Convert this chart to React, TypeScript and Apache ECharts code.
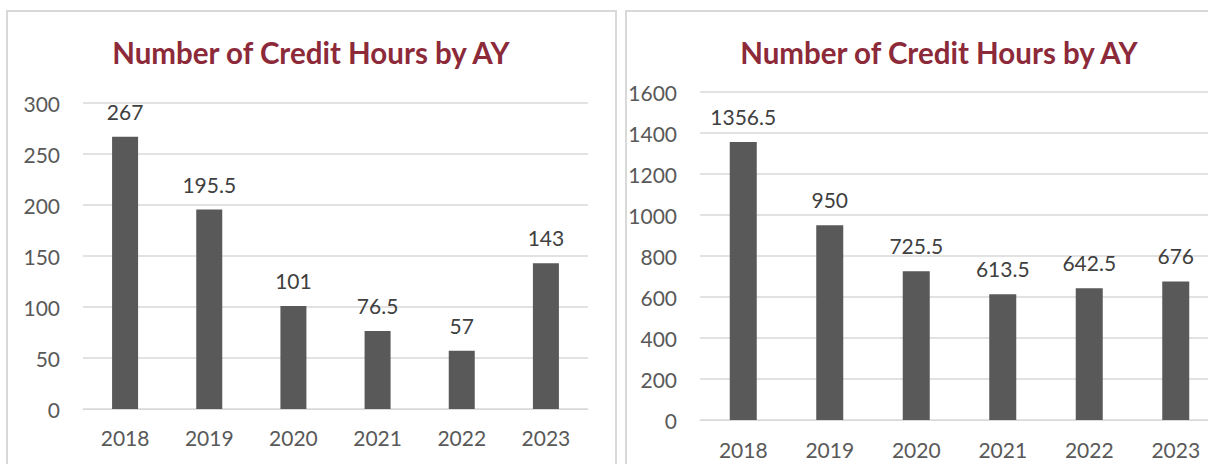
import React, { useEffect, useRef } from "react";
import * as echarts from "echarts";

const years = ["2018", "2019", "2020", "2021", "2022", "2023"];
const leftValues = [267, 195.5, 101, 76.5, 57, 143];
const rightValues = [1356.5, 950, 725.5, 613.5, 642.5, 676];
const titleText = "Number of Credit Hours by AY";

const FONT = "Lato, 'Open Sans', sans-serif";
const BAR = "#595959";
const GRID = "#d9d9d9";
const AXIS_TEXT = "#595959";
const LABEL_TEXT = "#404040";
const TITLE = "#8c2a3a";

export default function App() {
  const ref = useRef<HTMLDivElement>(null);
  useEffect(() => {
    if (!ref.current) return;
    const chart = echarts.init(ref.current, null, { renderer: "svg" });
    const mkX = (gi: number, margin: number) => ({
      type: "category",
      gridIndex: gi,
      data: years,
      axisLine: { show: true, lineStyle: { color: GRID, width: 1 } },
      axisTick: { show: false },
      axisLabel: { color: AXIS_TEXT, fontSize: 21, fontFamily: FONT, margin },
    });
    const mkY = (gi: number, max: number, interval: number) => ({
      type: "value",
      gridIndex: gi,
      min: 0,
      max,
      interval,
      axisLine: { show: false },
      axisTick: { show: false },
      splitLine: { lineStyle: { color: GRID, width: 1.5 } },
      axisLabel: {
        color: AXIS_TEXT,
        fontSize: 21,
        fontFamily: FONT,
        margin: 23,
        formatter: (v: number) => String(v),
      },
    });
    const mkSeries = (gi: number, data: number[], w: number) => ({
      type: "bar",
      xAxisIndex: gi,
      yAxisIndex: gi,
      data,
      barWidth: w,
      itemStyle: { color: BAR },
      label: {
        show: true,
        position: "top",
        distance: 15,
        color: LABEL_TEXT,
        fontSize: 21,
        fontFamily: FONT,
      },
    });
    chart.setOption({
      animation: false,
      backgroundColor: "#ffffff",
      grid: [
        { left: 83, top: 103, width: 505, height: 306 },
        { left: 700, top: 92, width: 519, height: 328 },
      ],
      xAxis: [mkX(0, 18), mkX(1, 19)],
      yAxis: [mkY(0, 300, 50), mkY(1, 1600, 200)],
      series: [mkSeries(0, leftValues, 26), mkSeries(1, rightValues, 27)],
      graphic: [
        {
          type: "rect",
          shape: { x: 7, y: 11, width: 609, height: 470 },
          style: { fill: "none", stroke: GRID, lineWidth: 2 },
          z: -1,
        },
        {
          type: "rect",
          shape: { x: 626, y: 11, width: 700, height: 470 },
          style: { fill: "none", stroke: GRID, lineWidth: 2 },
          z: -1,
        },
        {
          type: "text",
          x: 311,
          y: 52,
          style: {
            text: titleText,
            fill: TITLE,
            font: `bold 29.5px ${FONT}`,
            textAlign: "center",
            textVerticalAlign: "middle",
          },
        },
        {
          type: "text",
          x: 939,
          y: 52,
          style: {
            text: titleText,
            fill: TITLE,
            font: `bold 29.5px ${FONT}`,
            textAlign: "center",
            textVerticalAlign: "middle",
          },
        },
      ],
    });
    return () => chart.dispose();
  }, []);
  return (
    <div
      style={{
        position: "absolute",
        left: 0,
        top: 0,
        width: 1208,
        height: 464,
        overflow: "hidden",
      }}
    >
      <div ref={ref} style={{ width: 1260, height: 464 }} />
    </div>
  );
}
